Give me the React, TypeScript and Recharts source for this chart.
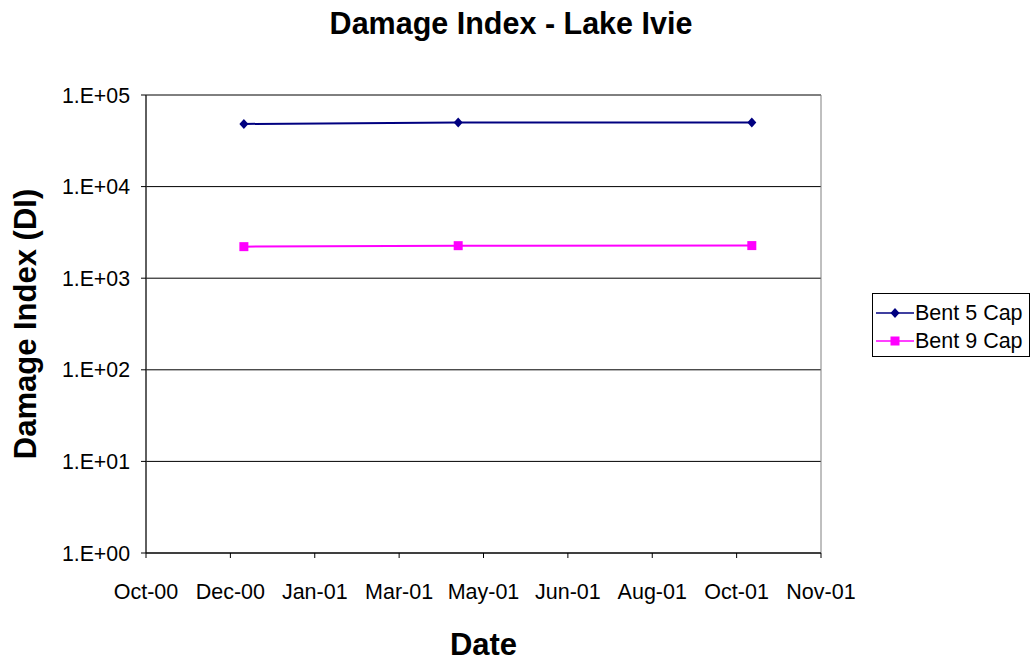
import React from 'react'
import { LineChart, Line, XAxis, YAxis, CartesianGrid, Legend, ReferenceArea } from 'recharts'

// sample dates and damage index per cap
const sampleDates = ['2000-12-17', '2001-04-23', '2001-10-14']
const bent5Cap = [48300, 50000, 50200]
const bent9Cap = [2210, 2265, 2270]

// axis ticks
const xTickDates = ['2000-10-20', '2000-12-09', '2001-01-28', '2001-03-19', '2001-05-08', '2001-06-27', '2001-08-16', '2001-10-05', '2001-11-24']
const yTicks = [1, 10, 100, 1000, 10000, 100000]
const monthNames = ['Jan', 'Feb', 'Mar', 'Apr', 'May', 'Jun', 'Jul', 'Aug', 'Sep', 'Oct', 'Nov', 'Dec']

const FONT = '"Liberation Sans", Arial, sans-serif'
const BLUE = '#000080'
const PINK = '#FF00FF'

const toTime = (s: string) => {
    const [y, m, d] = s.split('-').map(Number)
    return Date.UTC(y, m - 1, d)
}

const xTicks = xTickDates.map(toTime)

const data = sampleDates.map((d, i) => ({
    date: toTime(d),
    bent5: bent5Cap[i],
    bent9: bent9Cap[i],
}))

const formatDate = (t: number) => {
    const d = new Date(t)
    return `${monthNames[d.getUTCMonth()]}-${String(d.getUTCFullYear() % 100).padStart(2, '0')}`
}

const formatPow = (v: number) => `1.E+${String(Math.round(Math.log10(v))).padStart(2, '0')}`

const Diamond = ({ cx, cy, fill }: any) => {
    if (cx == null || cy == null) return null
    return <path d={`M${cx},${cy - 5} L${cx + 4.5},${cy} L${cx},${cy + 5} L${cx - 4.5},${cy} Z`} fill={fill} />
}

const Square = ({ cx, cy, fill }: any) => {
    if (cx == null || cy == null) return null
    return <rect x={cx - 4.5} y={cy - 4.5} width={9} height={9} fill={fill} />
}

const LegendBox = ({ payload }: any) => (
    <div style={{ border: '1px solid #000', background: '#fff', padding: '5px 6px 1px 3px', fontFamily: FONT, fontSize: 21.5 }}>
        {(payload || []).map((entry: any, i: number) => (
            <div key={entry.value} style={{ display: 'flex', alignItems: 'center', height: 28 }}>
                <svg width={38} height={14} style={{ marginRight: 1 }}>
                    <line x1={0} y1={7} x2={38} y2={7} stroke={entry.color} strokeWidth={1.5} />
                    {i === 0
                        ? <Diamond cx={19} cy={7} fill={entry.color} />
                        : <Square cx={19} cy={7} fill={entry.color} />}
                </svg>
                <span>{entry.value}</span>
            </div>
        ))}
    </div>
)

const YLabel = ({ viewBox }: any) => {
    const x = viewBox.x + 25
    const y = viewBox.y + viewBox.height / 2
    return (
        <text x={x} y={y} transform={`rotate(-90 ${x} ${y})`} textAnchor="middle" dominantBaseline="central"
            fontFamily={FONT} fontWeight="bold" fontSize={31} fill="#000">
            Damage Index (DI)
        </text>
    )
}

const XLabel = ({ viewBox }: any) => (
    <text x={viewBox.x + viewBox.width / 2} y={viewBox.y + 91} textAnchor="middle" dominantBaseline="central"
        fontFamily={FONT} fontWeight="bold" fontSize={31} fill="#000">
        Date
    </text>
)

const App = () => {
    return (
        <div style={{ position: 'absolute', left: 0, top: 0, width: 1035, height: 660, background: '#fff' }}>
            <div style={{
                position: 'absolute', left: 0, top: 6, width: 1022, textAlign: 'center',
                fontFamily: FONT, fontWeight: 'bold', fontSize: 30.5, zIndex: 2
            }}>
                Damage Index - Lake Ivie
            </div>
            <LineChart width={1035} height={660} data={data} margin={{ top: 95, right: 214, bottom: 0, left: 0 }}>
                <CartesianGrid vertical={false} stroke="#000" strokeOpacity={1} />
                <ReferenceArea x1={xTicks[0]} x2={xTicks[xTicks.length - 1]} y1={1} y2={100000}
                    fill="none" stroke="#808080" strokeWidth={1} ifOverflow="visible" />
                <XAxis
                    dataKey="date"
                    type="number"
                    scale="time"
                    domain={[xTicks[0], xTicks[xTicks.length - 1]]}
                    ticks={xTicks}
                    tickFormatter={formatDate}
                    height={107}
                    stroke="#000"
                    tickSize={5}
                    tickMargin={26}
                    tick={{ fill: '#000', fontFamily: FONT, fontSize: 21.5 }}
                    label={<XLabel />}
                />
                <YAxis
                    scale="log"
                    domain={[1, 100000]}
                    ticks={yTicks}
                    allowDataOverflow
                    tickFormatter={formatPow}
                    width={146}
                    stroke="#000"
                    tickSize={5}
                    tickMargin={11}
                    tick={{ fill: '#000', fontFamily: FONT, fontSize: 21.3 }}
                    label={<YLabel />}
                />
                <Legend
                    layout="vertical"
                    align="center"
                    verticalAlign="middle"
                    content={<LegendBox />}
                    wrapperStyle={{ left: 872, top: 293, width: 'auto' }}
                />
                <Line
                    name="Bent 5 Cap"
                    dataKey="bent5"
                    stroke={BLUE}
                    strokeWidth={2}
                    dot={<Diamond fill={BLUE} />}
                    activeDot={false}
                    isAnimationActive={false}
                />
                <Line
                    name="Bent 9 Cap"
                    dataKey="bent9"
                    stroke={PINK}
                    strokeWidth={2}
                    dot={<Square fill={PINK} />}
                    activeDot={false}
                    isAnimationActive={false}
                />
            </LineChart>
        </div>
    )
}

export default App
